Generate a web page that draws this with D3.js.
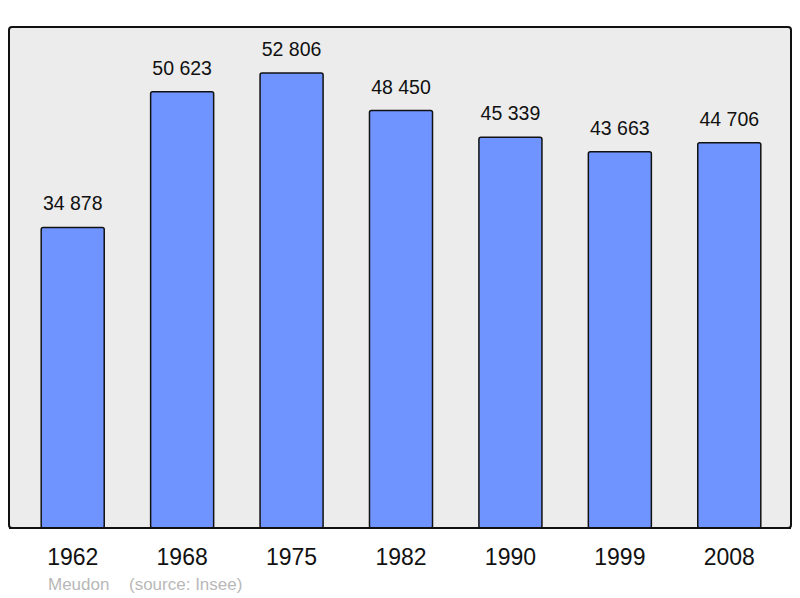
<!DOCTYPE html>
<html>
<head>
<meta charset="utf-8">
<script src="https://cdn.jsdelivr.net/npm/d3@7"></script>
<style>
  body { margin: 0; background: #fff; }
  text { font-family: "Liberation Sans", Arial, sans-serif; }
</style>
</head>
<body>
<div id="canvas"></div>
<script>
"use strict"

// data
let years = ["1962", "1968", "1975", "1982", "1990", "1999", "2008"];
let population = [34878, 50623, 52806, 48450, 45339, 43663, 44706];
let town = "Meudon";
let source = "(source: Insee)";

let drawing = d3.select("#canvas")
    .append("svg")
    .attr("width", 800)
    .attr("height", 598);

// x: one band per census year
let x = d3.scaleBand()
    .domain(years)
    .range([18, 784])
    .paddingInner(0.424)
    .paddingOuter(0.212);

// y: zero sits on the bottom of the frame
let y = d3.scaleLinear()
    .domain([0, 58140])
    .range([528, 27]);

// grey frame
drawing.append("rect")
    .attr("x", 9)
    .attr("y", 27)
    .attr("width", 782)
    .attr("height", 501)
    .attr("rx", 3)
    .attr("fill", "#ececec")
    .attr("stroke", "#111")
    .attr("stroke-width", 2);

// bars
drawing.selectAll("rect.bar")
    .data(population)
    .join("rect")
    .attr("class", "bar")
    .attr("x", (d, i) => x(years[i]))
    .attr("y", d => y(d))
    .attr("width", x.bandwidth())
    .attr("height", d => y(0) - y(d))
    .attr("rx", 2)
    .attr("fill", "#7094ff")
    .attr("stroke", "#111")
    .attr("stroke-width", 1.5);

// redraw frame bottom over the bars
drawing.append("line")
    .attr("x1", 9)
    .attr("x2", 791)
    .attr("y1", 528)
    .attr("y2", 528)
    .attr("stroke", "#111")
    .attr("stroke-width", 2);

// value labels
let fmt = d => d3.format(",")(d).replace(",", " ");
drawing.selectAll("text.value")
    .data(population)
    .join("text")
    .attr("class", "value")
    .attr("x", (d, i) => x(years[i]) + x.bandwidth() / 2)
    .attr("y", d => y(d) - 17)
    .attr("text-anchor", "middle")
    .attr("font-size", 19.5)
    .attr("fill", "#111")
    .text(fmt);

// year axis labels
let xAxis = drawing.append("g")
    .attr("transform", "translate(0,528)")
    .call(d3.axisBottom(x).tickSize(0).tickPadding(0));
xAxis.select(".domain").remove();
xAxis.selectAll("text")
    .attr("dy", null)
    .attr("y", 37)
    .attr("font-size", 23)
    .attr("font-family", "Liberation Sans, Arial, sans-serif")
    .attr("fill", "#111");

// caption
drawing.append("text")
    .attr("x", 48)
    .attr("y", 590)
    .attr("font-size", 17)
    .attr("fill", "#b8b8b8")
    .text(town);
drawing.append("text")
    .attr("x", 129)
    .attr("y", 590)
    .attr("font-size", 17)
    .attr("fill", "#b8b8b8")
    .text(source);
</script>
</body>
</html>
